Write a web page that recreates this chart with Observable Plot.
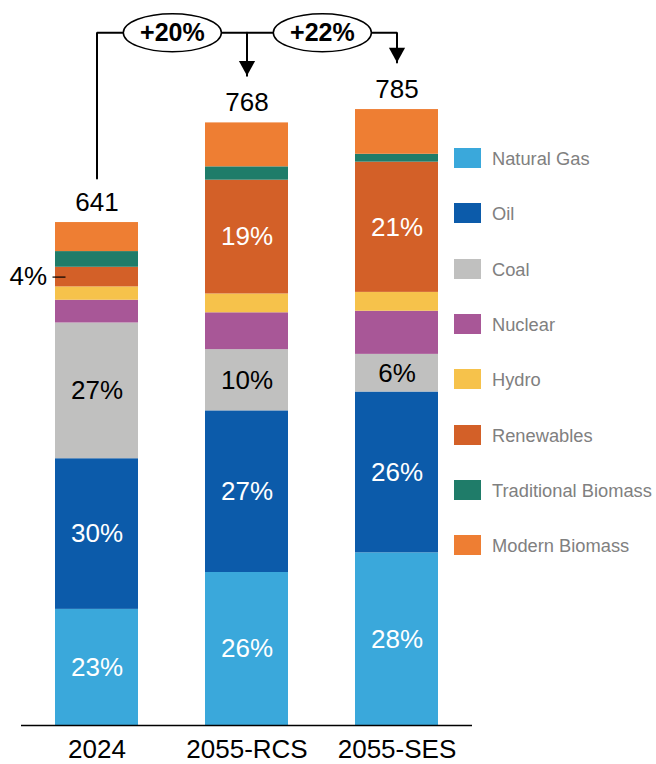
<!DOCTYPE html>
<html><head><meta charset="utf-8">
<script src="https://cdn.jsdelivr.net/npm/d3@7"></script>
<script src="https://cdn.jsdelivr.net/npm/@observablehq/plot@0.6"></script>
<style>
body{margin:0;background:#fff;font-family:"Liberation Sans",Arial,sans-serif;}
#wrap{position:relative;width:656px;height:764px;overflow:hidden;}
#legend{position:absolute;left:454px;top:0;width:202px;height:764px;}
.item{position:absolute;left:0;height:20px;display:flex;align-items:center;white-space:nowrap;}
.sw{width:27px;height:20px;flex:none;}
.lab{margin-left:11px;font-size:18.3px;color:#808080;line-height:20px;position:relative;top:1px;}
</style></head><body>
<div id="wrap"><div id="chart"></div><div id="legend"></div></div>
<script>
const categories = ["2024", "2055-RCS", "2055-SES"];
const series = ["Natural Gas", "Oil", "Coal", "Nuclear", "Hydro", "Renewables", "Traditional Biomass", "Modern Biomass"];
const colors = ["#3aa8db", "#0c5baa", "#c0c0bf", "#a85797", "#f6c24b", "#d36028", "#1f7c69", "#ee7e33"];
const values2024 = [148, 192, 173, 29, 17, 25, 20, 37];
const valuesRCS  = [195, 206, 78, 47, 24, 145, 17, 56];
const valuesSES  = [220, 205, 48, 55, 24, 166, 10, 57];
const labels2024 = ["23%", "30%", "27%", "", "", "", "", ""];
const labelsRCS  = ["26%", "27%", "10%", "", "", "19%", "", ""];
const labelsSES  = ["28%", "26%", "6%", "", "", "21%", "", ""];
const totals = [641, 768, 785];
const growthLabels = ["+20%", "+22%"];
const sideLabel = "4%";           // share of Renewables in 2024
const bracketTop = 883;           // annotation bracket level (data units)
const bracketStart = 697;
const arrowTips = [828, 845];

const valueSets = [values2024, valuesRCS, valuesSES];
const labelSets = [labels2024, labelsRCS, labelsSES];
const rows = [];
categories.forEach((c, ci) => series.forEach((s, si) => rows.push({cat: c, series: s, value: valueSets[ci][si], label: labelSets[ci][si]})));
const totalRows = categories.map((c, i) => ({cat: c, total: totals[i]}));

const padIn = 0.445, padOut = 0.219, mL = 21, mR = 184, W = 656;
const step = (W - mL - mR) / (categories.length - padIn + 2 * padOut);

const bracket = [
  {x: categories[0], y: bracketStart, g: 1}, {x: categories[0], y: bracketTop, g: 1},
  {x: categories[2], y: bracketTop, g: 1}, {x: categories[2], y: arrowTips[1], g: 1},
  {x: categories[1], y: bracketTop, g: 2}, {x: categories[1], y: arrowTips[0], g: 2}
];
const tips = [{x: categories[1], y: arrowTips[0]}, {x: categories[2], y: arrowTips[1]}];
const growth = growthLabels.map((t, i) => ({x: categories[i], y: bracketTop, text: t}));

const triDown = {draw(ctx, size) {
  const r = Math.sqrt(size / Math.PI);
  ctx.moveTo(-r * 0.9, -r * 1.65); ctx.lineTo(r * 0.9, -r * 1.65); ctx.lineTo(0, 0); ctx.closePath();
}};
const ellipse = {draw(ctx, size) {
  const r = Math.sqrt(size / Math.PI), ry = r, rx = r * 2.58, k = 0.5523;
  ctx.moveTo(rx, 0);
  ctx.bezierCurveTo(rx, ry * k, rx * k, ry, 0, ry);
  ctx.bezierCurveTo(-rx * k, ry, -rx, ry * k, -rx, 0);
  ctx.bezierCurveTo(-rx, -ry * k, -rx * k, -ry, 0, -ry);
  ctx.bezierCurveTo(rx * k, -ry, rx, -ry * k, rx, 0);
  ctx.closePath();
}};
const hline = {draw(ctx, size) {
  const r = Math.sqrt(size / Math.PI);
  ctx.moveTo(-r, 0); ctx.lineTo(r, 0);
}};

const renewIdx = series.indexOf("Renewables");
const sideY = values2024.slice(0, renewIdx).reduce((a, b) => a + b, 0) + values2024[renewIdx] / 2;

const chart = Plot.plot({
  width: W, height: 764,
  marginLeft: mL, marginRight: mR, marginTop: 0, marginBottom: 39,
  style: {fontFamily: "'Liberation Sans', Arial, sans-serif", fontSize: "26px", color: "black", background: "white"},
  x: {type: "band", domain: categories, paddingInner: padIn, paddingOuter: padOut, tickSize: 0, tickPadding: 14, label: null},
  y: {domain: [0, 924], axis: null},
  color: {domain: series, range: colors},
  marks: [
    Plot.barY(rows, Plot.stackY({x: "cat", y: "value", fill: "series"})),
    Plot.text(rows, Plot.stackY({x: "cat", y: "value", text: d => d.series === "Coal" ? "" : d.label, fill: "white", fontSize: 26})),
    Plot.text(rows, Plot.stackY({x: "cat", y: "value", text: d => d.series === "Coal" ? d.label : "", fill: "black", fontSize: 26})),
    Plot.text(totalRows, {x: "cat", y: "total", text: d => String(d.total), dy: -12, lineAnchor: "bottom", fontSize: 26, fill: "black"}),
    Plot.ruleY([0], {stroke: "black", strokeWidth: 1.5}),
    Plot.line(bracket, {x: "x", y: "y", z: "g", stroke: "black", strokeWidth: 2, strokeLinejoin: "miter", curve: "linear"}),
    Plot.dot(tips, {x: "x", y: "y", symbol: triDown, r: 9, fill: "black", stroke: "none"}),
    Plot.dot(growth, {x: "x", y: "y", dx: step / 2, symbol: ellipse, r: 19, fill: "white", stroke: "black", strokeWidth: 1.5}),
    Plot.text(growth, {x: "x", y: "y", dx: step / 2, text: "text", fontWeight: "bold", fontSize: 25, fill: "black"}),
    Plot.text([{x: categories[0], y: sideY}], {x: "x", y: "y", text: () => sideLabel, dx: -50, textAnchor: "end", fontSize: 26, fill: "black"}),
    Plot.dot([{x: categories[0], y: sideY}], {x: "x", y: "y", dx: -38, symbol: hline, r: 6.5, stroke: "black", strokeWidth: 1.2, fill: "none"})
  ]
});
document.getElementById("chart").appendChild(chart);

const legend = document.getElementById("legend");
series.forEach((s, i) => {
  const item = document.createElement("div");
  item.className = "item";
  item.style.top = (148 + i * 55.3) + "px";
  const sw = document.createElement("div");
  sw.className = "sw"; sw.style.background = colors[i];
  const lab = document.createElement("span");
  lab.className = "lab"; lab.textContent = s;
  item.appendChild(sw); item.appendChild(lab);
  legend.appendChild(item);
});
</script>
</body></html>
